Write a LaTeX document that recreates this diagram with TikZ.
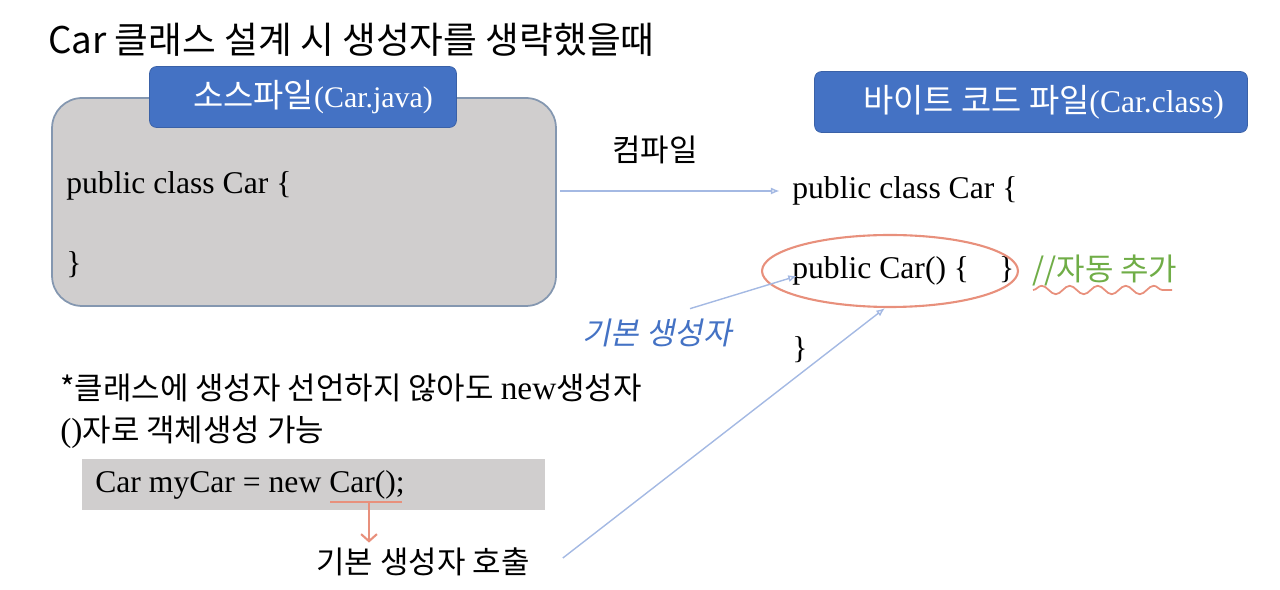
\documentclass[tikz,border=0pt]{standalone}
\usepackage{fontspec}
\setmainfont{Liberation Serif}
\newfontfamily\kr[Scale=1.1]{Noto Sans CJK KR}
\newfontfamily\krslant[Scale=1.1,FakeSlant=0.2]{Noto Sans CJK KR}
\usetikzlibrary{arrows.meta,shapes.geometric,decorations.pathmorphing}

\definecolor{tabblue}{HTML}{4472C4}
\definecolor{boxgray}{HTML}{D0CECE}
\definecolor{boxline}{HTML}{8497B0}
\definecolor{linkblue}{HTML}{A4B9E3}
\definecolor{salmon}{HTML}{E8907C}
\definecolor{notegreen}{HTML}{70AD47}

\newcommand{\lat}[1]{{\rmfamily\fontsize{19}{22}\selectfont #1}}

\tikzset{
  tab/.style={fill=tabblue, draw=tabblue!85!black, rounded corners=4pt, text=white,
    inner sep=0pt, minimum height=1.22cm, font=\fontsize{17}{20}\selectfont},
  code/.style={anchor=west, inner sep=0pt, font=\fontsize{18}{21}\selectfont},
  kor/.style={anchor=west, inner sep=0pt, font=\kr\fontsize{16}{20}\selectfont},
  link/.style={draw=linkblue, line width=0.8pt, -{Latex[open,length=5pt,width=4pt]}},
}

\begin{document}
\begin{tikzpicture}[x=0.02cm, y=-0.02cm]
\useasboundingbox (0,0) rectangle (1280,590);

\node[anchor=west, inner sep=0pt, font=\kr\fontsize{19}{23}\selectfont] (title) at (48,40) {Car 클래스 설계 시 생성자를 생략했을때};

\node[fill=boxgray, draw=boxline, line width=1pt, rounded corners=0.6cm,
  minimum width=10.08cm, minimum height=4.16cm] (src) at (304,202) {};
\node[tab, minimum width=6.14cm] (srctab) at (303,97) {\hspace{0.4cm}{\kr 소스파일}(Car.java)};
\node[code] (srcl1) at (66,186) {public class Car \{};
\node[code] (srcl2) at (66,265) {\}};

\node[tab, minimum width=8.66cm] (bytetab) at (1031,102) {\hspace{0.5cm}{\kr 바이트 코드 파일}{\fontsize{18}{21}\selectfont(Car.class)}};
\node[font=\kr\fontsize{16}{20}\selectfont, inner sep=0pt] (compile) at (655,150) {컴파일};
\node[code] (byl1) at (792,191) {public class Car \{};
\node[code] (ctor) at (792,271) {public Car() \{\hspace{0.95em}\}};
\node[code] (byl3) at (792,350) {\}};
\node[draw=salmon, line width=1.2pt, ellipse, inner sep=0pt,
  minimum width=5.12cm, minimum height=1.44cm] (ctorring) at (890,271) {};
\node[kor, text=notegreen] (auto) at (1032,270) {//자동 추가};
\draw[salmon, line width=1pt, decorate, decoration={snake, amplitude=2.4pt, segment length=0.56cm}]
  (1033,290) -- (1172,290);

\draw[link, shorten <=2pt, shorten >=7pt] (byl1.west -| src.east) -- (byl1.west);

\node[inner sep=0pt, text=tabblue, font=\krslant\fontsize{16}{20}\selectfont] (defl) at (657,333) {기본 생성자};
\draw[link] ([xshift=0.66cm,yshift=0.2cm]defl.north) -- ([xshift=0.1cm,yshift=-0.1cm]ctor.west);

\node[kor] (note1) at (60,388) {*클래스에 생성자 선언하지 않아도 \lat{new}생성자};
\node[kor] (note2) at (60,432) {\lat{()}자로 객체생성 가능};

\node[fill=boxgray, inner sep=0pt, minimum width=9.26cm, minimum height=1.02cm] (call) at (313.5,484.5) {};
\node[code] (callt) at (95,485) {Car myCar = new Car();};
\coordinate (ul-a) at (330,502);
\coordinate (ul-b) at (402,502);
\coordinate (ul-mid) at (369,502);
\draw[salmon, line width=1.2pt] (ul-a) -- (ul-b);

\node[font=\kr\fontsize{16}{20}\selectfont, inner sep=0pt] (callout) at (423,562) {기본 생성자 호출};
\draw[salmon, line width=1.2pt, -{Straight Barb[length=4pt,width=9pt]}] (ul-mid) -- ([yshift=0.1cm]ul-mid |- callout.north);

\draw[link] ([xshift=0.66cm,yshift=0.08cm]callout.east) -- ([xshift=-0.1cm]ctorring.south);
\end{tikzpicture}
\end{document}
